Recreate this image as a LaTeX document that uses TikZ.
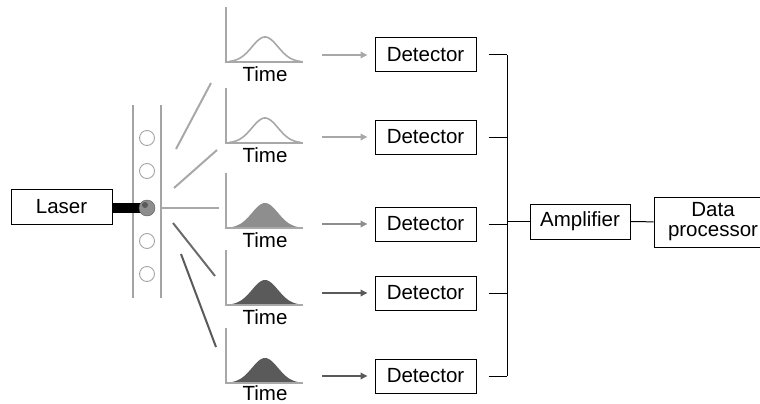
\documentclass[tikz,border=0pt]{standalone}
\usepackage{fontspec}
\setmainfont{Liberation Sans}
\usetikzlibrary{arrows.meta}
\definecolor{lightg}{HTML}{A8A8A8}
\definecolor{midg}{HTML}{8E8E8E}
\definecolor{darkg}{HTML}{5A5A5A}
\definecolor{chan}{HTML}{A4A4A4}

\begin{document}
\begin{tikzpicture}[x=1pt,y=-1pt,
  box/.style={draw=black, line width=1pt, minimum width=101pt, minimum height=34pt,
              inner sep=0pt, font=\fontsize{20.5}{22}\selectfont},
  axis/.style={draw=lightg, line width=2pt},
  lbl/.style={font=\fontsize{20.5}{22}\selectfont, inner sep=0pt},
  ray/.style={line width=2pt},
  flow/.style={-{Triangle[length=7pt,width=6.5pt]}, line width=2pt, shorten >=7pt},
  bus/.style={line width=1pt},
  hollow/.style={draw=lightg, line width=1.6pt},
  solidmid/.style={fill=midg},
  soliddark/.style={fill=darkg}
]
\useasboundingbox (0,0) rectangle (760,404);

% flow channel walls
\draw[chan, line width=1.5pt] (133,105) -- (133,298);
\draw[chan, line width=1.5pt] (161,105) -- (161,298);

% cells in the channel
\foreach \cy in {138,171,241,274}
  \draw[draw=chan, line width=0.9pt, fill=white] (147,\cy) circle[radius=7.5];

% laser and its beam onto the illuminated cell
\node[box, minimum height=35pt] (laser) at (61.5,206.5) {Laser};
\coordinate (pc) at (147,208);
\draw[black, line width=10pt] (laser.east |- pc) -- (pc);
\node[circle, fill=midg, draw=darkg, line width=0.4pt, minimum size=16pt, inner sep=0pt] (particle) at (pc) {};
\fill[darkg] (145,205) circle[radius=3];

% scattered light rays
\draw[lightg, ray] (176,149) -- (211,83);
\draw[lightg, ray] (174,188) -- (217,150);
\draw[lightg, ray] (162,208) -- (219,208);
\draw[darkg!90!white, ray] (173,223) -- (215,276);
\draw[darkg, ray] (181,254) -- (216,347);

% pulse plots
\foreach \yb/\sty/\ty [count=\i] in {62/hollow/74,143/hollow/155,228/solidmid/240,305/soliddark/317,383/soliddark/393}{
  \path[\sty] plot[domain=229:301, samples=60, smooth]
    (\x,{\yb-25*exp(-((\x-265)^2)/(2*13^2))});
  \draw[axis] (226,\yb-55) -- (226,\yb) -- (303,\yb);
  \node[lbl] (t\i) at (265,\ty) {Time};
}

% detectors, arrows and the bus
\foreach \y/\c [count=\i] in {55/lightg,137/lightg,224/midg,293/darkg,376/darkg}{
  \node[box] (d\i) at (425.5,\y) {Detector};
  \coordinate (s\i) at (322,\y);
  \draw[flow, \c] (s\i) -- (d\i);
  \coordinate (b\i) at (507,\y);
  \draw[bus] ([xshift=12pt]d\i.east) -- (b\i);
}
\draw[bus] (b1) -- (b5);

% amplifier and data processor (the latter runs past the right edge)
\node[box, minimum width=100pt, minimum height=35pt] (amp) at (580,221.5) {Amplifier};
\node[box, minimum width=118pt, minimum height=50pt, align=center] (dp) at (713,222) {Data\\[-2pt]processor};
\draw[bus] (amp.west -| b1) -- (amp.west);
\draw[bus] (amp) -- (dp);
\end{tikzpicture}
\end{document}
